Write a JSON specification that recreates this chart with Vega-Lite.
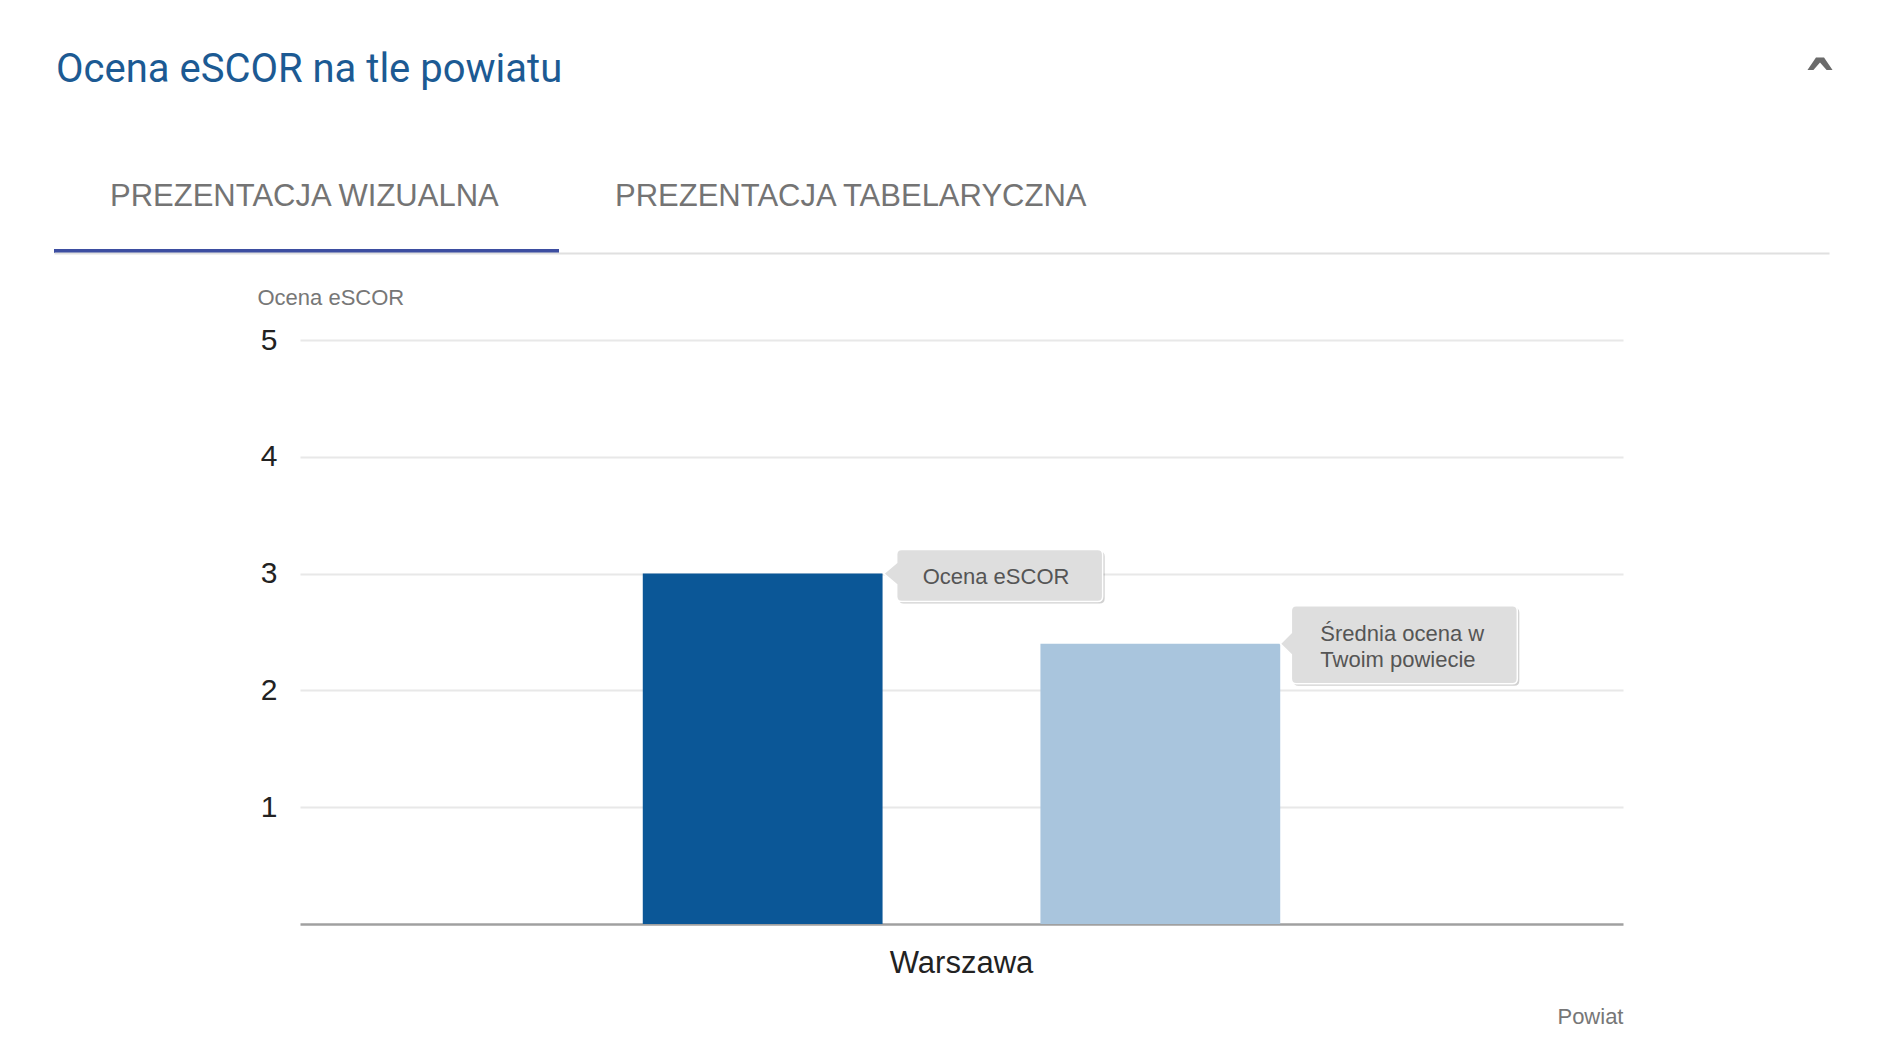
{
  "$schema": "https://vega.github.io/schema/vega-lite/v6.json",
  "background": "white",
  "padding": {"left": 54, "top": 50, "right": 20, "bottom": 20},
  "config": {"font": "Liberation Sans", "view": {"stroke": null}},
  "title": {"text": "ˆ", "anchor": "start", "align": "center", "frame": "bounds", "offset": -76, "dx": 1766, "font": "DejaVu Sans", "fontSize": 68, "fontWeight": "bold", "color": "#6b6b6b"},
  "spacing": 33,
  "vconcat": [
    {
      "width": 1323,
      "height": 102,
      "title": {"text": "Ocena eSCOR na tle powiatu", "anchor": "start", "frame": "bounds", "dx": 2, "font": "Roboto", "fontSize": 40, "fontWeight": "normal", "color": "#1c5a93", "baseline": "alphabetic", "offset": 29},
      "data": {"values": [
        {"tab": "PREZENTACJA WIZUALNA", "aktywna": true},
        {"tab": "PREZENTACJA TABELARYCZNA", "aktywna": false}
      ]},
      "encoding": {
        "x": {"field": "tab", "type": "nominal", "sort": null,
          "scale": {"range": [-246, 1529], "paddingInner": 0, "paddingOuter": 0.7574, "align": 0},
          "axis": {"labels": false, "ticks": false, "title": null, "domainColor": "#e0e0e0", "domainWidth": 2, "grid": false}}
      },
      "layer": [
        {
          "transform": [{"filter": "datum.aktywna"}],
          "mark": {"type": "rect", "color": "#3d4ea1"},
          "encoding": {"y": {"value": {"expr": "height - 4"}}, "y2": {"value": "height"}}
        },
        {
          "mark": {"type": "text", "align": "left", "dx": 56, "dy": -5, "baseline": "middle", "fontSize": 31, "color": "#747474"},
          "encoding": {
            "x": {"field": "tab", "type": "nominal", "sort": null, "bandPosition": 0},
            "text": {"field": "tab"}
          }
        }
      ]
    },
    {
      "width": 1323,
      "height": 584,
      "data": {"values": [
        {"powiat": "Warszawa", "seria": "Ocena eSCOR", "ocena": 3.0, "etykieta": "Ocena eSCOR"},
        {"powiat": "Warszawa", "seria": "Średnia ocena w Twoim powiecie", "ocena": 2.4, "etykieta": "Średnia ocena w\nTwoim powiecie"}
      ]},
      "encoding": {
        "x": {"field": "powiat", "type": "nominal",
          "scale": {"paddingInner": 0, "paddingOuter": 0},
          "axis": {"title": "Powiat", "titleX": 1323, "titleY": 99, "titleAlign": "right", "titleAnchor": "end", "titleBaseline": "alphabetic", "titleFontSize": 22, "titleFontWeight": "normal", "titleColor": "#777777",
            "labelFontSize": 31, "labelColor": "#222222", "labelPadding": 24, "labelAngle": 0, "ticks": false, "tickSize": 0,
            "domainColor": "#a0a0a0", "domainWidth": 2.5, "grid": false}},
        "xOffset": {"field": "seria", "type": "nominal", "sort": null, "scale": {"paddingInner": 0.397, "paddingOuter": 0.862}},
        "y": {"field": "ocena", "type": "quantitative",
          "scale": {"domain": [0, 5], "nice": false},
          "axis": {"values": [1, 2, 3, 4, 5], "title": "Ocena eSCOR", "titleAngle": 0, "titleAlign": "left", "titleBaseline": "alphabetic", "titleX": -43, "titleY": -36, "titleFontSize": 22, "titleFontWeight": "normal", "titleColor": "#777777",
            "labelFontSize": 30, "labelColor": "#222222", "labelPadding": 23, "ticks": false, "tickSize": 0, "domain": false,
            "grid": true, "gridColor": "#e8e8e8", "gridWidth": 2}}
      },
      "layer": [
        {
          "mark": {"type": "bar"},
          "encoding": {
            "color": {"field": "seria", "type": "nominal", "scale": {"domain": ["Ocena eSCOR", "Średnia ocena w Twoim powiecie"], "range": ["#0b5797", "#a9c5dd"]}, "legend": null}
          }
        },
        {
          "mark": {"type": "point", "filled": true, "size": 4, "color": "#000000", "opacity": 0.18},
          "encoding": {
            "shape": {"field": "seria", "type": "nominal", "legend": null,
              "scale": {"domain": ["Ocena eSCOR", "Średnia ocena w Twoim powiecie"],
                "range": [
                  "M 141 -22 L 337 -22 Q 342 -22 342 -17 L 342 25 Q 342 30 337 30 L 141 30 Q 136 30 136 25 L 136 13 L 123 2 L 136 -9 L 136 -17 Q 136 -22 141 -22 Z",
                  "M 138 -36 L 354 -36 Q 359 -36 359 -31 L 359 37 Q 359 42 354 42 L 138 42 Q 133 42 133 37 L 133 13 L 122 2 L 133 -9 L 133 -31 Q 133 -36 138 -36 Z"
                ]}}
          }
        },
        {
          "mark": {"type": "point", "filled": true, "size": 4, "fill": "#dedede", "stroke": "#ffffff", "strokeWidth": 1.5, "opacity": 1},
          "encoding": {
            "shape": {"field": "seria", "type": "nominal", "legend": null,
              "scale": {"domain": ["Ocena eSCOR", "Średnia ocena w Twoim powiecie"],
                "range": [
                  "M 139 -24 L 335 -24 Q 340 -24 340 -19 L 340 23 Q 340 28 335 28 L 139 28 Q 134 28 134 23 L 134 11 L 121 0 L 134 -11 L 134 -19 Q 134 -24 139 -24 Z",
                  "M 136 -38 L 352 -38 Q 357 -38 357 -33 L 357 35 Q 357 40 352 40 L 136 40 Q 131 40 131 35 L 131 11 L 120 0 L 131 -11 L 131 -33 Q 131 -38 136 -38 Z"
                ]}}
          }
        },
        {
          "transform": [{"filter": "datum.seria == 'Ocena eSCOR'"}],
          "mark": {"type": "text", "align": "left", "baseline": "middle", "dx": 160, "dy": 3, "fontSize": 22, "color": "#555555"},
          "encoding": {"text": {"field": "etykieta"}}
        },
        {
          "transform": [{"filter": "datum.seria != 'Ocena eSCOR'"}],
          "mark": {"type": "text", "align": "left", "baseline": "middle", "dx": 160, "dy": -10, "fontSize": 22, "color": "#555555", "lineBreak": "\n", "lineHeight": 26},
          "encoding": {"text": {"field": "etykieta"}}
        }
      ],
      "resolve": {"scale": {"shape": "independent"}}
    }
  ]
}
